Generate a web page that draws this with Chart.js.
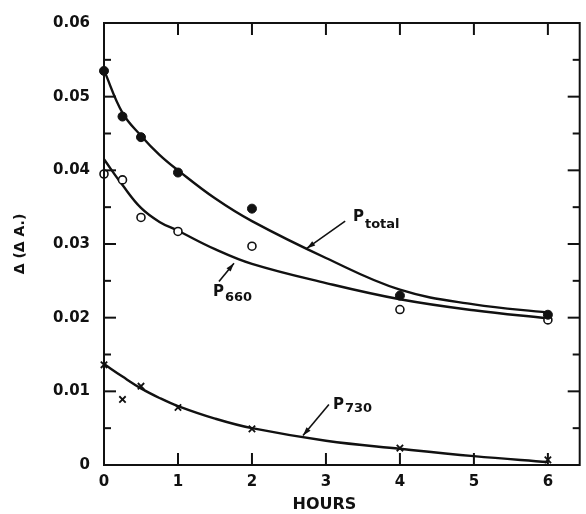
<!DOCTYPE html>
<html>
<head>
  <meta charset="utf-8">
  <title>Δ(ΔA.) vs hours</title>
  <script src="https://cdn.jsdelivr.net/npm/chart.js"></script>
  <style>
    * { box-sizing:border-box; margin:0; padding:0 }
    body { background:#fff; width:586px; height:514px; overflow:hidden }
    #wrap { position:relative; width:586px; height:514px }
  </style>
</head>
<body>
  <div id="wrap"><canvas id="c"></canvas></div>
  <script>
  // ===== DATA =====
  const hours       = [0, 0.25, 0.5, 1, 2, 4, 6];
  const pTotal      = [0.0535, 0.0473, 0.0445, 0.0397, 0.0348, 0.0230, 0.0204];
  const p660        = [0.0395, 0.0387, 0.0336, 0.0317, 0.0297, 0.0211, 0.0197];
  const p730        = [0.0136, 0.0089, 0.0107, 0.0078, 0.0049, 0.0023, 0.0007];

  // fitted curves
  const curveHours  = [0, 0.25, 0.5, 0.75, 1, 1.5, 2, 3, 4, 5, 6];
  const pTotalCurve = [0.0536, 0.0478, 0.0447, 0.0421, 0.0400, 0.0362, 0.0331, 0.0281, 0.0238, 0.0218, 0.0207];
  const p660Curve   = [0.0415, 0.0380, 0.0349, 0.0330, 0.0318, 0.0293, 0.0273, 0.0247, 0.0225, 0.0210, 0.0199];
  const p730Curve   = [0.0137, 0.0120, 0.0104, 0.0091, 0.0080, 0.0063, 0.0050, 0.0033, 0.0022, 0.0012, 0.0004];

  const xTicks = [0, 1, 2, 3, 4, 5, 6];
  const yTickLabels = ['0', '0.01', '0.02', '0.03', '0.04', '0.05', '0.06'];

  const INK  = '#111';
  const FONT = '"DejaVu Sans", sans-serif';

  const pts  = (xs, ys) => xs.map((v, i) => ({ x: v, y: ys[i] }));

  function curve(data) {
    return { data, showLine:true, pointRadius:0, borderColor:INK, borderWidth:2.4,
             tension:0.4, clip:false, order:2 };
  }

  // ===== labels + frame + inward ticks =====
  const marks = {
    id: 'marks',
    afterDraw(chart) {
      const { ctx, chartArea: a, scales: { x, y } } = chart;
      const line = (x0, y0, x1, y1) => { ctx.beginPath(); ctx.moveTo(x0, y0); ctx.lineTo(x1, y1); ctx.stroke(); };
      ctx.save();
      ctx.strokeStyle = INK; ctx.fillStyle = INK; ctx.lineWidth = 2;
      ctx.strokeRect(a.left, a.top, a.right - a.left, a.bottom - a.top);

      y.ticks.forEach(t => {
        const py = y.getPixelForValue(t.value);
        const major = Math.abs(t.value * 100 - Math.round(t.value * 100)) < 1e-6;
        const len = major ? 12 : 7;
        line(a.left, py, a.left + len, py);
        line(a.right, py, a.right - len, py);
      });
      x.ticks.forEach(t => {
        const px = x.getPixelForValue(t.value);
        line(px, a.bottom, px, a.bottom - 12);
        line(px, a.top, px, a.top + 12);
      });

      // x axis title sits under hour 3
      ctx.font = 'bold 16px ' + FONT;
      ctx.textAlign = 'center'; ctx.textBaseline = 'middle';
      ctx.fillText('HOURS', x.getPixelForValue(2.98), 505);

      // curve labels with arrows (P left edge / baseline)
      const notes = [
        { p:[3.365, 0.0331], sub:'total', dx:1, dy:7, from:[3.26, 0.0331], to:[2.74, 0.0294] },
        { p:[1.473, 0.0229], sub:'660',   dx:1, dy:5, from:[1.554, 0.0249], to:[1.757, 0.0274] },
        { p:[3.095, 0.0076], sub:'730',   dx:1, dy:3, from:[3.04, 0.0082], to:[2.69, 0.0040] }
      ];
      notes.forEach(n => {
        const px = x.getPixelForValue(n.p[0]), py = y.getPixelForValue(n.p[1]);
        ctx.textAlign = 'left'; ctx.textBaseline = 'alphabetic';
        ctx.font = 'bold 15px ' + FONT;
        ctx.fillText('P', px, py);
        const w = ctx.measureText('P').width;
        ctx.font = 'bold 13px ' + FONT;
        ctx.fillText(n.sub, px + w + n.dx, py + n.dy);

        const x0 = x.getPixelForValue(n.from[0]), y0 = y.getPixelForValue(n.from[1]);
        const x1 = x.getPixelForValue(n.to[0]),   y1 = y.getPixelForValue(n.to[1]);
        ctx.lineWidth = 1.6;
        line(x0, y0, x1, y1);
        const ang = Math.atan2(y1 - y0, x1 - x0);
        ctx.beginPath();
        ctx.moveTo(x1, y1);
        ctx.lineTo(x1 - 9 * Math.cos(ang - 0.3), y1 - 9 * Math.sin(ang - 0.3));
        ctx.lineTo(x1 - 9 * Math.cos(ang + 0.3), y1 - 9 * Math.sin(ang + 0.3));
        ctx.closePath(); ctx.fill();
      });
      ctx.restore();
    }
  };

  new Chart(document.getElementById('c'), {
    type: 'scatter',
    data: {
      datasets: [
        { data: pts(hours, pTotal), pointStyle:'circle', pointRadius:4.5, pointBackgroundColor:INK,
          pointBorderColor:INK, pointBorderWidth:1, clip:false, order:0 },
        { data: pts(hours, p660), pointStyle:'circle', pointRadius:4, pointBackgroundColor:'#fff',
          pointBorderColor:INK, pointBorderWidth:1.6, clip:false, order:0 },
        { data: pts(hours, p730), pointStyle:'crossRot', pointRadius:4.5,
          pointBorderColor:INK, pointBorderWidth:1.8, clip:false, order:0 },
        curve(pts(curveHours, pTotalCurve)),
        curve(pts(curveHours, p660Curve)),
        curve(pts(curveHours, p730Curve))
      ]
    },
    options: {
      responsive: true, maintainAspectRatio: false, animation: false,
      layout: { padding: { top: 12, right: 6 } },
      plugins: { legend: { display:false }, tooltip: { enabled:false } },
      scales: {
        x: {
          type: 'linear', min: 0, max: 6.43,
          grid: { display:false, drawTicks:false }, border: { display:false },
          afterBuildTicks: s => { s.ticks = xTicks.map(v => ({ value: v })); },
          afterFit: s => { s.height = 49; },
          ticks: { padding: 8, color: INK, font: { family: FONT, size: 15, weight: 'bold' },
                   callback: v => String(v) }
        },
        y: {
          min: 0, max: 0.06,
          grid: { display:false, drawTicks:false }, border: { display:false },
          afterBuildTicks: s => {
            const t = [];
            for (let i = 0; i <= 12; i++) t.push({ value: i * 0.005 });
            s.ticks = t;
          },
          afterFit: s => { s.width = 104; },
          ticks: { padding: 14, color: INK, autoSkip: false,
                   font: { family: FONT, size: 15, weight: 'bold' },
                   callback: v => {
                     const r = Math.round(v * 200);
                     return r % 2 ? '' : yTickLabels[r / 2];
                   } },
          title: { display: true, text: 'Δ (Δ A.)', color: INK, padding: { top: 12, bottom: 0 },
                   font: { family: FONT, size: 14, weight: 'bold' } }
        }
      }
    },
    plugins: [marks]
  });
  </script>
</body>
</html>
